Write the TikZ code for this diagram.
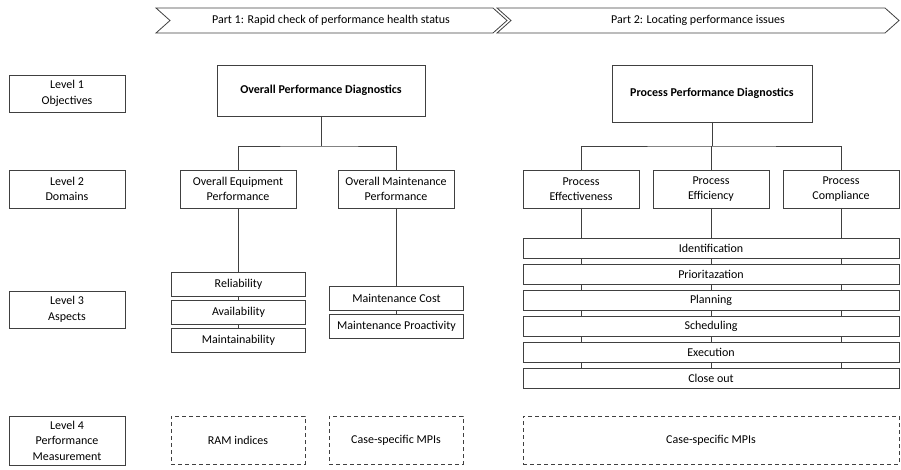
\documentclass[tikz,border=0pt]{standalone}
\usepackage{fontspec}
\setmainfont{Carlito}
\begin{document}
\begin{tikzpicture}[x=1pt,y=-1pt,
	line/.style={draw=black!75,line width=0.8pt},
	box/.style={line,fill=white,align=center,inner sep=0pt,outer sep=0pt,font=\fontsize{12}{15.5}\selectfont},
	dbox/.style={box,dash pattern=on 4pt off 3pt}]
	\useasboundingbox (0,0) rectangle (901,470);
	
	% phase banners
	\draw[line] (156,8) -- (493,8) -- (507,20.5) -- (493,33) -- (156,33) -- (170,20.5) -- cycle;
	\draw[line] (497,8) -- (885,8) -- (899,20.5) -- (885,33) -- (497,33) -- (511,20.5) -- cycle;
	\node[font=\fontsize{12}{15.5}\selectfont] (part1) at (331,20.5) {Part 1: Rapid check of performance health status};
	\node[font=\fontsize{12}{15.5}\selectfont] (part2) at (698,20.5) {Part 2: Locating performance issues};
	
	% levels
	\begin{scope}[every node/.style={box,minimum width=116}]
		\node[minimum height=37] (lvl1) at (67,93.5) {Level 1\\Objectives};
		\node[minimum height=38] (lvl2) at (67,189) {Level 2\\Domains};
		\node[minimum height=37] (lvl3) at (67,309.5) {Level 3\\Aspects};
		\node[minimum height=49] (lvl4) at (67,440.5) {Level 4\\Performance\\Measurement};
	\end{scope}
	
	% objectives
	\node[box,minimum width=208,minimum height=51,font=\fontsize{12}{15.5}\selectfont\bfseries] (opd) at (321,90.5) {Overall Performance Diagnostics};
	\node[box,minimum width=200,minimum height=57,font=\fontsize{12}{15.5}\selectfont\bfseries] (ppd) at (712,93.5) {Process Performance Diagnostics};
	
	% domains
	\begin{scope}[every node/.style={box,minimum width=116,minimum height=38}]
		\node (oep) at (238,189) {Overall Equipment\\Performance};
		\node (omp) at (396,189) {Overall Maintenance\\Performance};
		\node (pef) at (581,189) {Process\\Effectiveness};
		\node (pefi) at (711,189) {Process\\Efficiency};
		\node (pco) at (841,189) {Process\\Compliance};
	\end{scope}
	
	% aspects
	\begin{scope}[every node/.style={box,minimum width=134,minimum height=24}]
		\node (rel) at (238.5,284) {Reliability};
		\node (avail) at (238.5,312) {Availability};
		\node (maint) at (238.5,340) {Maintainability};
		\node (mcost) at (396.5,298) {Maintenance Cost};
		\node (mpro) at (396.5,326.5) {Maintenance Proactivity};
	\end{scope}
	\begin{scope}[every node/.style={box,minimum width=376,minimum height=20}]
		\node (s0) at (711,248) {Identification};
		\node (s1) at (711,274) {Prioritazation};
		\node (s2) at (711,300) {Planning};
		\node (s3) at (711,326) {Scheduling};
		\node (s4) at (711,352) {Execution};
		\node (s5) at (711,378) {Close out};
	\end{scope}
	
	% measurement
	\begin{scope}[every node/.style={dbox,minimum height=48}]
		\node[minimum width=134] (ram) at (238,440) {RAM indices};
		\node[minimum width=134] (mpi1) at (396,440) {Case-specific MPIs};
		\node[minimum width=376] (mpi2) at (711,440) {Case-specific MPIs};
	\end{scope}
	
	% connectors
	\coordinate (lj) at (321,146);
	\coordinate (rj) at (712,146);
	\draw[line] (opd.south) -- (lj);
	\draw[line] (oep.north) |- (lj) -| (omp.north);
	\draw[line] (ppd.south) -- (rj);
	\draw[line] (pef.north) |- (rj) -| (pco.north);
	\draw[line] (pefi.north) -- (pefi.north |- rj);
	\draw[line] (oep.south) -- (rel.north -| oep.south);
	\draw[line] (rel.south -| oep.south) -- (avail.north -| oep.south);
	\draw[line] (avail.south -| oep.south) -- (maint.north -| oep.south);
	\draw[line] (omp.south) -- (mcost.north -| omp.south);
	\draw[line] (mcost.south -| omp.south) -- (mpro.north -| omp.south);
	\foreach \d in {pef,pefi,pco}{
		\draw[line] (\d.south) -- (s0.north -| \d.south);
		\foreach \i [evaluate=\i as \j using int(\i+1)] in {0,...,4}
			\draw[line] (s\i.south -| \d.south) -- (s\j.north -| \d.south);
	}
\end{tikzpicture}
\end{document}
